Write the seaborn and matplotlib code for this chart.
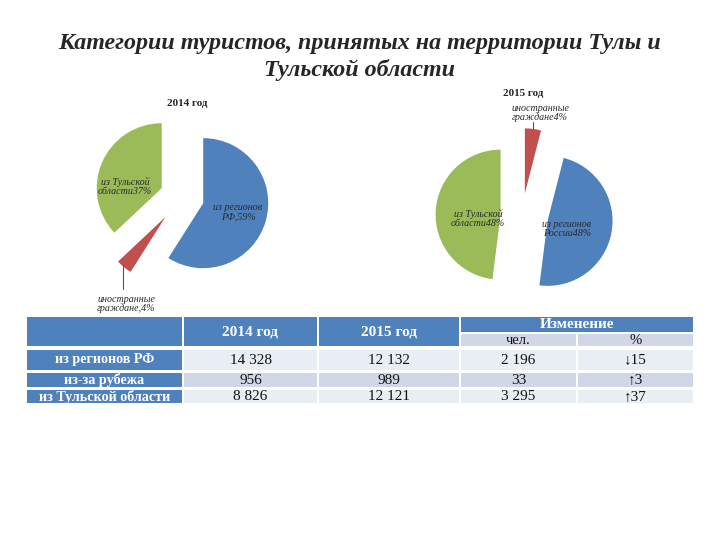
import matplotlib
matplotlib.use("Agg")
import matplotlib.pyplot as plt
from matplotlib.patches import Rectangle
import seaborn as sns

# ---- data ----
title_text = "Категории туристов, принятых на территории Тулы и\nТульской области"

pie2014_labels = ["из регионов\nРФ,59%", "иностранные\nграждане,4%", "из Тульской\nобласти37%"]
pie2014_values = [59, 4, 37]
pie2015_labels = ["иностранные\nграждане4%", "из регионов\nРоссии48%", "из Тульской\nобласти48%"]
pie2015_values = [4, 48, 48]

row_names = ["из регионов РФ", "из-за рубежа", "из Тульской области"]
val_2014 = ["14 328", "956", "8 826"]
val_2015 = ["12 132", "989", "12 121"]
chg_people = ["2 196", "33", "3 295"]
chg_pct = ["↓15", "↑3", "↑37"]
header_cols = ["2014 год", "2015 год"]
header_change = "Изменение"
sub_headers = ["чел.", "%"]

BLUE = "#4F81BD"
RED = "#C0504D"
GREEN = "#9BBB59"

sns.set_style("white")
plt.rcParams["font.family"] = ["Liberation Serif", "DejaVu Serif"]

fig = plt.figure(figsize=(7.2, 5.4), dpi=100)
ax = fig.add_axes([0, 0, 1, 1])

H = 540
def Y(y):
    return H - y

R = 65
# ---- pies (explode given in data units) ----
ax.pie(pie2014_values, colors=[BLUE, RED, GREEN], startangle=90, counterclock=False,
       explode=[0.34 * R, 0.40 * R, 0.34 * R], center=(182, Y(197)), radius=R,
       wedgeprops=dict(linewidth=0))
ax.pie(pie2015_values, colors=[RED, BLUE, GREEN], startangle=90, counterclock=False,
       explode=[0.35 * R, 0.40 * R, 0.33 * R], center=(522, Y(216)), radius=R,
       wedgeprops=dict(linewidth=0))

lab_kw = dict(fontsize=7.2, style="italic", color="#2a2a2a", ha="center", va="center",
              linespacing=1.0)
ax.text(238, Y(212), pie2014_labels[0], **lab_kw)
ax.text(126, Y(304), pie2014_labels[1], **lab_kw)
ax.text(125, Y(187), pie2014_labels[2], **lab_kw)
ax.plot([123, 123], [Y(265), Y(289)], color="#555555", lw=0.8)

ax.text(540, Y(113), pie2015_labels[0], **lab_kw)
ax.plot([533, 533], [Y(122), Y(129)], color="#555555", lw=0.8)
ax.text(567, Y(229), pie2015_labels[1], **lab_kw)
ax.text(478, Y(219), pie2015_labels[2], **lab_kw)

ax.text(187, Y(103), "2014 год", fontsize=8, fontweight="bold", ha="center", va="center")
ax.text(523, Y(94), "2015 год", fontsize=8, fontweight="bold", ha="center", va="center")

# ---- title ----
ax.text(360, Y(57), title_text, fontsize=17.3, fontweight="bold", style="italic",
        ha="center", va="center", linespacing=1.3)

# ---- table ----
xs = [26, 183, 318, 460, 577, 694]
gap = 1.0
HEAD_TOP, HEAD_MID, HEAD_BOT = 316, 333, 347
rows = [(349, 371), (372, 388), (389, 404)]
LIGHT1 = "#E9EDF4"
LIGHT2 = "#D0D8E8"

def cell(x0, x1, y0, y1, color):
    ax.add_patch(Rectangle((x0 + gap, Y(y1) + gap), (x1 - x0) - 2 * gap, (y1 - y0) - 2 * gap,
                           facecolor=color, edgecolor="none"))

# header
cell(xs[0], xs[1], HEAD_TOP, HEAD_BOT, BLUE)
cell(xs[1], xs[2], HEAD_TOP, HEAD_BOT, BLUE)
cell(xs[2], xs[3], HEAD_TOP, HEAD_BOT, BLUE)
cell(xs[3], xs[5], HEAD_TOP, HEAD_MID, BLUE)
cell(xs[3], xs[4], HEAD_MID, HEAD_BOT, LIGHT2)
cell(xs[4], xs[5], HEAD_MID, HEAD_BOT, LIGHT2)

hkw = dict(fontsize=11, fontweight="bold", color="white", ha="center", va="center")
rkw = dict(fontsize=10.2, fontweight="bold", color="white", ha="center", va="center")
for i, t in enumerate(header_cols):
    ax.text((xs[i + 1] + xs[i + 2]) / 2, Y((HEAD_TOP + HEAD_BOT) / 2), t, **hkw)
ax.text((xs[3] + xs[5]) / 2, Y((HEAD_TOP + HEAD_MID) / 2), header_change, **hkw)
for i, t in enumerate(sub_headers):
    ax.text((xs[3 + i] + xs[4 + i]) / 2, Y((HEAD_MID + HEAD_BOT) / 2), t,
            fontsize=10.5, color="#111111", ha="center", va="center")

cols = [val_2014, val_2015, chg_people, chg_pct]
for r, (y0, y1) in enumerate(rows):
    fill = LIGHT1 if r != 1 else LIGHT2
    cell(xs[0], xs[1], y0, y1, BLUE)
    ax.text((xs[0] + xs[1]) / 2, Y((y0 + y1) / 2), row_names[r], **rkw)
    for c in range(4):
        cell(xs[c + 1], xs[c + 2], y0, y1, fill)
        ax.text((xs[c + 1] + xs[c + 2]) / 2, Y((y0 + y1) / 2), cols[c][r],
                fontsize=11, color="#111111", ha="center", va="center")

ax.set_xlim(0, 720)
ax.set_ylim(0, 540)
ax.set_aspect("auto")
ax.axis("off")

fig.savefig("out.png", dpi=100)
